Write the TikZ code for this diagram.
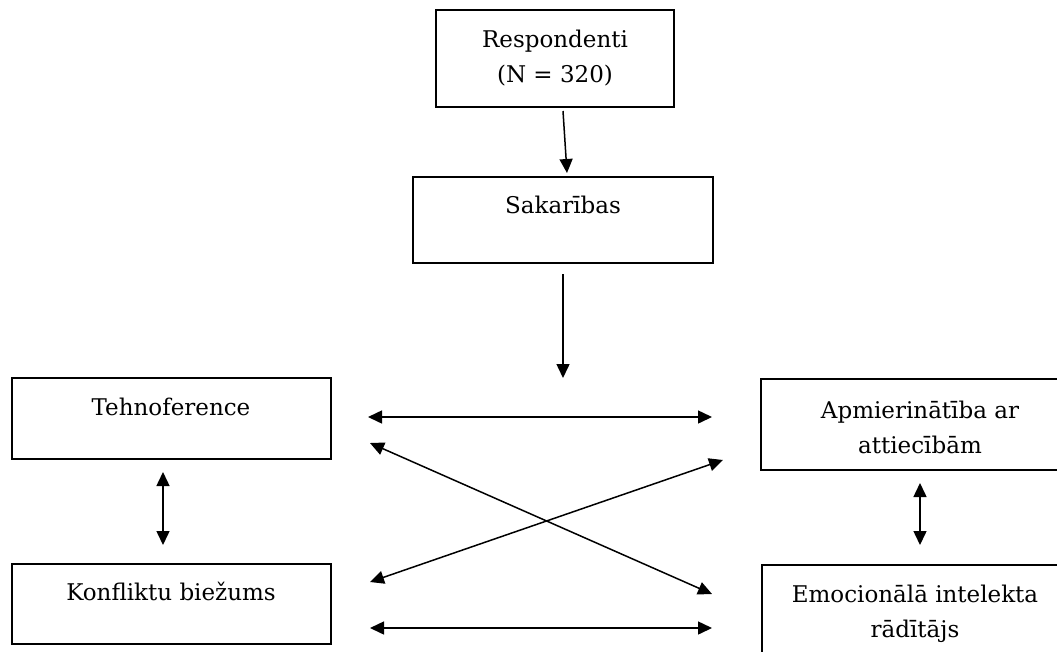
\documentclass[tikz,border=0pt]{standalone}
\usepackage{fontspec}
\setmainfont{DejaVu Serif}
\usetikzlibrary{arrows.meta}
\tikzset{
  box/.style={draw, line width=1.8pt, inner sep=0pt},
  lbl/.style={anchor=base, align=center, inner sep=0pt, font=\fontsize{23}{35}\selectfont},
  arr/.style={line width=1.5pt, -{Triangle[length=14pt,width=13pt]}},
  biarr/.style={line width=1.5pt, {Triangle[length=14pt,width=13pt]}-{Triangle[length=14pt,width=13pt]}},
}
\begin{document}
\begin{tikzpicture}[x=1pt,y=-1pt]
  \useasboundingbox (0,0) rectangle (1057,651);

  % Draw the boxes
  \node[box, minimum width=238pt, minimum height=97pt] (resp) at (555,58.5) {};
  \node[box, minimum width=300pt, minimum height=86pt] (sak) at (563,220) {};
  \node[box, minimum width=319pt, minimum height=81pt] (tehno) at (171.5,418.5) {};
  \node[box, minimum width=319pt, minimum height=91pt] (apmier) at (920.5,424.5) {};
  \node[box, minimum width=319pt, minimum height=80pt] (konf) at (171.5,604) {};
  \node[box, minimum width=319pt, minimum height=91pt] (emoc) at (921.5,610.5) {};

  % Text in the boxes (base = last line)
  \node[lbl] (respT) at (555,82) {Respondenti\\(N = 320)};
  \node[lbl] (sakT) at (563,213) {Sakarības};
  \node[lbl] (tehnoT) at (171,415) {Tehnoference};
  \node[lbl] (apmierT) at (920,453) {Apmierinātība ar\\attiecībām};
  \node[lbl] (konfT) at (171,600) {Konfliktu biežums};
  \node[lbl] (emocT) at (915,637) {Emocionālā intelekta\\rādītājs};

  % Arrow ends
  \coordinate (r1) at (563,111);
  \coordinate (s1) at (567,173);
  \coordinate (s2) at (563,274);
  \coordinate (s3) at (563,378);
  \coordinate (t1) at (368,417);
  \coordinate (a1) at (712,417);
  \coordinate (t2) at (370,443);
  \coordinate (e1) at (712,594);
  \coordinate (k1) at (370,582);
  \coordinate (a2) at (723,460);
  \coordinate (k2) at (370,628);
  \coordinate (e2) at (712,628);
  \coordinate (t3) at (163,472);
  \coordinate (k3) at (163,545);
  \coordinate (a3) at (920,483);
  \coordinate (e3) at (920,545);

  % Draw the arrows
  \draw[arr] (r1) -- (s1);
  \draw[arr] (s2) -- (s3);
  \draw[biarr] (t1) -- (a1);
  \draw[biarr] (t2) -- (e1);
  \draw[biarr] (k1) -- (a2);
  \draw[biarr] (k2) -- (e2);
  \draw[biarr] (t3) -- (k3);
  \draw[biarr] (a3) -- (e3);

\end{tikzpicture}
\end{document}
